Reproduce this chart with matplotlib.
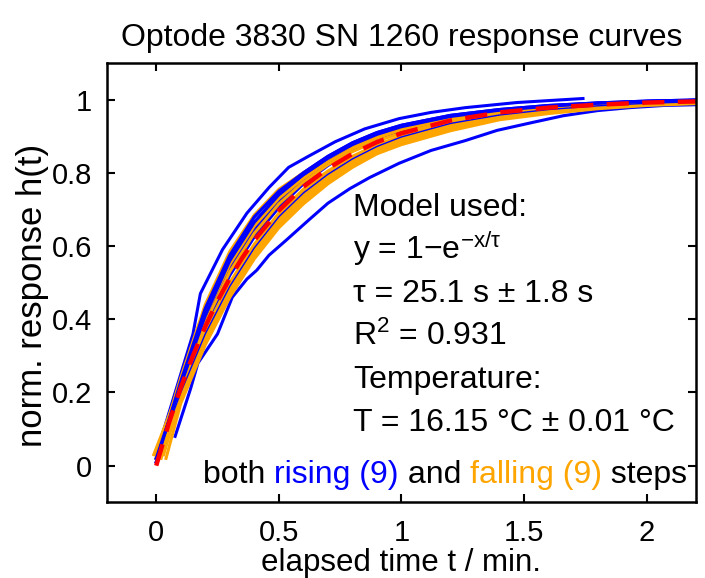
import numpy as np
import matplotlib
matplotlib.use("Agg")
import matplotlib.pyplot as plt

plt.rcParams["font.family"] = ["Liberation Sans", "DejaVu Sans"]
plt.rcParams["mathtext.fontset"] = "custom"
plt.rcParams["mathtext.rm"] = "Liberation Sans"
plt.rcParams["mathtext.it"] = "Liberation Sans"
plt.rcParams["mathtext.default"] = "regular"

BLUE, ORANGE, RED = "#0000FF", "#FFA500", "#FF0000"

# common time grid (min) for the bundle curves
T_GRID = [0.1, 0.2, 0.3, 0.4, 0.5, 0.6, 0.7, 0.8, 0.9, 1.0, 1.2, 1.4, 1.6, 1.8, 2.0, 2.2]

# outer rising curves, traced individually
rise_outer_t = [
    [0.0, 0.15, 0.18, 0.27, 0.37, 0.46, 0.54, 0.62, 0.73, 0.85, 0.99, 1.12, 1.26, 1.47, 1.74],
    [0.077, 0.14, 0.17, 0.25, 0.31, 0.37, 0.41, 0.46, 0.53, 0.62, 0.70, 0.79, 0.87, 0.99,
     1.12, 1.26, 1.39, 1.53, 1.66, 1.80, 1.93, 2.07, 2.2],
]
rise_outer_y = [
    [0.03, 0.36, 0.47, 0.59, 0.69, 0.76, 0.815, 0.845, 0.885, 0.92, 0.948, 0.965, 0.978, 0.992, 1.003],
    [0.08, 0.21, 0.28, 0.36, 0.46, 0.51, 0.534, 0.575, 0.616, 0.670, 0.717, 0.757, 0.787, 0.826,
     0.861, 0.888, 0.916, 0.937, 0.956, 0.970, 0.978, 0.984, 0.986],
]

# remaining rising steps: start point + values on T_GRID
rise_start = [(0.0, 0.02), (0.01, 0.03), (0.0, 0.01), (0.02, 0.03), (0.0, 0.02), (0.01, 0.02), (0.0, 0.03)]
rise_y = [
    [0.22, 0.41, 0.56, 0.665, 0.74, 0.795, 0.84, 0.877, 0.905, 0.926, 0.954, 0.971, 0.982, 0.990, 0.995, 0.998],
    [0.21, 0.40, 0.545, 0.65, 0.728, 0.787, 0.833, 0.870, 0.899, 0.921, 0.951, 0.969, 0.981, 0.989, 0.994, 0.997],
    [0.23, 0.43, 0.575, 0.68, 0.75, 0.80, 0.845, 0.882, 0.91, 0.93, 0.957, 0.973, 0.984, 0.991, 0.996, 0.999],
    [0.20, 0.38, 0.52, 0.625, 0.705, 0.77, 0.82, 0.86, 0.89, 0.913, 0.946, 0.966, 0.979, 0.987, 0.993, 0.996],
    [0.20, 0.36, 0.49, 0.595, 0.68, 0.745, 0.796, 0.838, 0.872, 0.898, 0.935, 0.958, 0.973, 0.983, 0.990, 0.994],
    [0.22, 0.40, 0.535, 0.64, 0.72, 0.78, 0.828, 0.866, 0.896, 0.918, 0.949, 0.968, 0.980, 0.988, 0.993, 0.996],
    [0.21, 0.39, 0.525, 0.63, 0.71, 0.775, 0.825, 0.865, 0.895, 0.917, 0.948, 0.967, 0.980, 0.988, 0.993, 0.997],
]

# falling steps: start point + values on T_GRID
fall_start = [(0.0, 0.02), (-0.01, 0.03), (0.02, 0.02), (0.0, 0.03), (0.01, 0.02),
              (0.03, 0.03), (0.0, 0.02), (0.02, 0.03), (0.04, 0.02)]
fall_y = [
    [0.24, 0.44, 0.585, 0.685, 0.755, 0.80, 0.84, 0.873, 0.90, 0.922, 0.95, 0.968, 0.979, 0.987, 0.993, 0.996],
    [0.22, 0.41, 0.55, 0.655, 0.73, 0.785, 0.83, 0.866, 0.895, 0.918, 0.948, 0.966, 0.978, 0.987, 0.993, 0.996],
    [0.21, 0.39, 0.53, 0.635, 0.715, 0.775, 0.822, 0.858, 0.887, 0.909, 0.942, 0.963, 0.976, 0.985, 0.991, 0.995],
    [0.20, 0.37, 0.50, 0.605, 0.69, 0.755, 0.805, 0.845, 0.877, 0.901, 0.937, 0.960, 0.974, 0.984, 0.990, 0.994],
    [0.20, 0.36, 0.49, 0.595, 0.68, 0.745, 0.797, 0.838, 0.871, 0.896, 0.934, 0.958, 0.973, 0.983, 0.990, 0.994],
    [0.19, 0.35, 0.48, 0.585, 0.67, 0.735, 0.788, 0.830, 0.864, 0.890, 0.930, 0.955, 0.971, 0.982, 0.989, 0.993],
    [0.18, 0.34, 0.47, 0.578, 0.66, 0.727, 0.780, 0.823, 0.858, 0.884, 0.925, 0.952, 0.969, 0.980, 0.988, 0.992],
    [0.18, 0.335, 0.465, 0.572, 0.655, 0.72, 0.775, 0.818, 0.854, 0.880, 0.92, 0.948, 0.966, 0.978, 0.986, 0.991],
    [0.17, 0.33, 0.46, 0.565, 0.65, 0.715, 0.77, 0.815, 0.852, 0.877, 0.915, 0.945, 0.962, 0.975, 0.984, 0.989],
]

# fitted model curve (red dashed)
model_t = [0.0, 0.05, 0.1, 0.15, 0.2, 0.25, 0.3, 0.35, 0.4, 0.5, 0.6, 0.7, 0.8, 0.9, 1.0, 1.2, 1.4,
           1.6, 1.8, 2.0, 2.2]
model_y = [0.0, 0.113, 0.213, 0.301, 0.380, 0.450, 0.512, 0.567, 0.616, 0.697, 0.762, 0.812, 0.852,
           0.884, 0.908, 0.943, 0.965, 0.978, 0.986, 0.992, 0.995]

xticks = [0, 0.5, 1, 1.5, 2]
xticklabels = ["0", "0.5", "1", "1.5", "2"]
yticks = [0, 0.2, 0.4, 0.6, 0.8, 1]
yticklabels = ["0", "0.2", "0.4", "0.6", "0.8", "1"]

info_lines = [
    "Model used:",
    r"y = 1$-$e$^{-x/\tau}$",
    "τ = 25.1 s ± 1.8 s",
    r"R$^2$ = 0.931",
    "Temperature:",
    "T = 16.15 °C ± 0.01 °C",
]

fig = plt.figure(figsize=(7.05, 5.78), dpi=100)
ax = fig.add_axes([0.152, 0.131, 0.835, 0.760])

lw = 2.2
# rising steps first, falling steps on top
for i in range(9):
    if i < 2:
        ax.plot(rise_outer_t[i], rise_outer_y[i], color=BLUE, lw=lw)
    else:
        t0, y0 = rise_start[i - 2]
        ax.plot([t0] + T_GRID, [y0] + rise_y[i - 2], color=BLUE, lw=lw)
for i in range(9):
    t0, y0 = fall_start[i]
    ax.plot([t0] + T_GRID, [y0] + fall_y[i], color=ORANGE, lw=lw)
# a few rising curves stay visible above the orange band
for i in (0, 2, 4):
    t0, y0 = rise_start[i]
    ax.plot([t0] + T_GRID, [y0] + rise_y[i], color=BLUE, lw=lw if i != 4 else 1.0)

ax.plot(model_t, model_y, color=RED, lw=3.2, linestyle=(0, (5, 3)))

ax.set_xlim(-0.2, 2.2)
ax.set_ylim(-0.1, 1.1)
ax.set_xticks(xticks)
ax.set_xticklabels(xticklabels)
ax.set_yticks(yticks)
ax.set_yticklabels(yticklabels)
ax.tick_params(direction="in", length=6, width=1.5, top=True, right=True, labelsize=21)
ax.tick_params(axis="x", pad=12)
ax.tick_params(axis="y", pad=11)
for s in ax.spines.values():
    s.set_linewidth(1.8)

ax.set_xlabel("elapsed time t / min.", fontsize=22.5, labelpad=1)
ax.set_ylabel("norm. response h(t)", fontsize=25, labelpad=2, y=0.47)
ax.set_title("Optode 3830 SN 1260 response curves", fontsize=23, pad=12)

ys = [0.651, 0.554, 0.456, 0.358, 0.260, 0.162]
for s, yy in zip(info_lines, ys):
    ax.text(0.418, yy, s, transform=ax.transAxes, fontsize=23, ha="left", va="baseline")

# coloured last line, built from the right
parts = [(" steps", "black"), ("falling (9)", ORANGE), (" and ", "black"),
         ("rising (9)", BLUE), ("both ", "black")]
prev = ax.text(0.985, 0.043, parts[0][0], color=parts[0][1], transform=ax.transAxes,
               fontsize=23, ha="right", va="baseline")
for s, c in parts[1:]:
    prev = ax.annotate(s, xy=(0, 0), xycoords=prev, color=c, fontsize=23,
                       ha="right", va="bottom")

fig.savefig("out.png", dpi=100)
